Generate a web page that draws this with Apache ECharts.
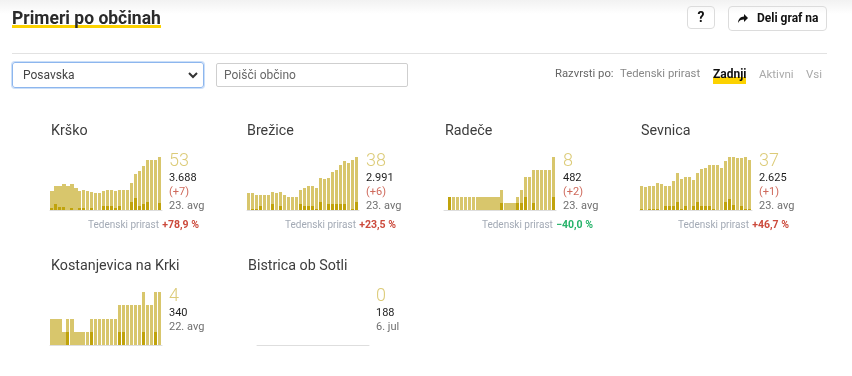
<!DOCTYPE html>
<html><head><meta charset="utf-8">
<script src="https://cdn.jsdelivr.net/npm/echarts@6/dist/echarts.min.js"></script>
<style>
html,body{margin:0;padding:0;width:852px;height:376px;overflow:hidden;background:#fff;font-family:Roboto,"Noto Sans",Arial,sans-serif;}
#chart{position:absolute;left:0;top:0;width:852px;height:376px;}
.ui{position:absolute;white-space:nowrap;}
</style></head><body>
<div class="ui" style="left:0;top:0;width:852px;height:14px;background:linear-gradient(#f2f2f2,#fff);"></div>
<div id="chart"></div>
<!-- header -->
<div class="ui" style="left:12px;top:25px;width:149px;height:3px;background:#fcd200;"></div>
<div class="ui" style="left:12px;top:8px;font-size:17.5px;line-height:20px;font-weight:700;color:#2b2b2b;">Primeri po občinah</div>
<div class="ui" style="left:687px;top:6px;width:26px;height:21px;border:1px solid #dcdcdc;border-radius:4px;text-align:center;font-size:14px;line-height:21px;font-weight:700;color:#111;">?</div>
<div class="ui" style="left:728px;top:6px;width:97px;height:23px;border:1px solid #dcdcdc;border-radius:4px;">
  <svg style="position:absolute;left:9px;top:7px" width="10" height="9" viewBox="0 0 10 9"><path d="M6 0 L10 4 L6 8 L6 5.5 C3 5.5 1.2 6.5 0 9 C0.3 5 2.5 2.8 6 2.6 Z" fill="#111"/></svg>
  <span style="position:absolute;left:28px;top:0;font-size:12px;line-height:23px;font-weight:700;color:#111;">Deli graf na</span>
</div>
<div class="ui" style="left:12px;top:53px;width:815px;height:1px;background:#e2e2e2;"></div>
<div class="ui" style="left:12px;top:62px;width:190px;height:24px;border:1px solid #8db6ee;border-radius:3px;box-shadow:0 0 0 1px rgba(140,185,240,0.45);">
  <span style="position:absolute;left:10px;top:0;font-size:12px;line-height:24px;color:#444;">Posavska</span>
  <svg style="position:absolute;left:175px;top:9px" width="10" height="7" viewBox="0 0 10 7"><path d="M1 1 L5 5 L9 1" stroke="#333" stroke-width="2" fill="none"/></svg>
</div>
<div class="ui" style="left:216px;top:63px;width:190px;height:22px;border:1px solid #cfcfcf;border-radius:2px;">
  <span style="position:absolute;left:7px;top:0;font-size:12px;line-height:22px;color:#666;">Poišči občino</span>
</div>
<div class="ui" style="left:713px;top:77px;width:33px;height:7px;background:#fcd200;"></div>
<div class="ui" style="left:555px;top:66px;font-size:11.3px;line-height:16px;color:#666;">Razvrsti po:</div>
<div class="ui" style="left:620px;top:66px;font-size:11.3px;line-height:16px;color:#888;">Tedenski prirast</div>
<div class="ui" style="left:713px;top:66px;font-size:12px;line-height:16px;color:#111;font-weight:700;">Zadnji</div>
<div class="ui" style="left:759px;top:66px;font-size:11.5px;line-height:16px;color:#aaa;">Aktivni</div>
<div class="ui" style="left:806px;top:66px;font-size:11.5px;line-height:16px;color:#aaa;">Vsi</div>
<script>
// ---- data ----
const days = ['27. jul','28. jul','29. jul','30. jul','31. jul','1. avg','2. avg','3. avg','4. avg','5. avg','6. avg','7. avg','8. avg','9. avg','10. avg','11. avg','12. avg','13. avg','14. avg','15. avg','16. avg','17. avg','18. avg','19. avg','20. avg','21. avg','22. avg','23. avg'];
const names = ['Krško','Brežice','Radeče','Sevnica','Kostanjevica na Krki','Bistrica ob Sotli'];

const krskoActive = [19,24,24,26,24,26,22,19,20,19,18,17,17,19,20,20,19,20,20,20,27,36,39,44,50,50,50,53];
const krskoDaily  = [2,6,3,3,0,2,0,2,2,0,2,0,0,4,4,4,2,4,0,0,8,12,4,6,8,0,0,7];
const krskoBlock  = [19,24,24,26,24,26,22,null,null,null,null,null,null,null,null,null,null,null,null,null,null,null,null,null,null,null,null,null];

const brezActive = [12,12,11,11,11,11,13,12,13,11,9,9,9,14,16,17,17,16,23,22,23,27,29,32,35,34,36,38];
const brezDaily  = [0,1,1,3,0,0,4,0,3,0,0,0,0,4,3,3,3,1,6,0,4,4,4,4,4,0,1,6];
const brezBlock  = [];

const radActive = [0,2,2,2,2,2,2,2,2,2,2,2,2,2,3,1,1,1,2,3,5,5,6,6,6,6,6,8];
const radDaily  = [0,2,0,0,0,0,0,0,0,0,0,0,0,0,1,0,0,0,1,1,2,0,1,0,0,0,0,2];
const radBlock  = [null,null,null,null,null,null,null,null,2,2,2,2,2,2,null,1,1,1,null,null,null,null,null,null,null,null,null,null];

const sevActive = [18,17,18,18,20,19,18,18,21,27,23,24,24,22,27,30,31,33,33,33,31,36,39,39,38,38,39,37];
const sevDaily  = [1,0,1,1,1,0,3,3,3,6,1,3,0,3,6,3,3,3,1,0,0,6,8,4,0,3,1,1];
const sevBlock  = [];

const kostActive = [2,2,2,1,2,2,1,1,1,1,2,2,2,2,2,2,2,3,3,3,3,3,3,4,3,3,4,4];
const kostDaily  = [0,0,0,0,1,0,0,0,0,0,1,0,0,0,0,0,0,1,1,0,0,0,0,1,0,0,1,0];
const kostBlock  = [2,2,2,1,null,2,1,1,null,null,null,null,null,null,null,null,null,null,null,null,null,null,null,null,null,null,null,null];

const bistActive = [];
const bistDaily  = [];
const bistBlock  = [];

const lastValues = ['53','38','8','37','4','0'];
const totals     = ['3.688','2.991','482','2.625','340','188'];
const changes    = ['(+7)','(+6)','(+2)','(+1)',null,null];
const lastDates  = ['23. avg','23. avg','23. avg','23. avg','22. avg','6. jul'];
const weekly     = ['+78,9 %','+23,5 %','−40,0 %','+46,7 %',null,null];

// ---- layout ----
const LIGHT = '#d8c66c', DARK = '#c0a30c';
const layout = [
  {gx:50,  gy:157, tx:51},
  {gx:247, gy:157, tx:247},
  {gx:444, gy:157, tx:445},
  {gx:640, gy:157, tx:641},
  {gx:50,  gy:292, tx:51},
  {gx:257, gy:292, tx:248}
];
const sets = [
  [krskoActive,krskoDaily,krskoBlock],
  [brezActive,brezDaily,brezBlock],
  [radActive,radDaily,radBlock],
  [sevActive,sevDaily,sevBlock],
  [kostActive,kostDaily,kostBlock],
  [bistActive,bistDaily,bistBlock]
];

function render(color, gap){
  return function(params, api){
    const v = api.value(1);
    if (v == null || isNaN(v) || v <= 0) return null;
    const top = api.coord([api.value(0), v]);
    const base = api.coord([api.value(0), 0]);
    const bw = api.size([1, 0])[0];
    const x0 = Math.round(top[0] - bw/2);
    const x1 = Math.round(top[0] + bw/2) - gap;
    const y0 = Math.round(top[1]);
    const y1 = Math.round(base[1]);
    return {type:'rect', shape:{x:x0, y:y0, width:x1-x0, height:y1-y0}, style:{fill:color}};
  };
}
const toPairs = a => a.map((v,i)=>[i, v == null ? NaN : v]);

const grid=[], xAxis=[], yAxis=[], series=[], graphic=[];
layout.forEach((L, k) => {
  const [act, daily, block] = sets[k];
  grid.push({left:L.gx, top:L.gy, width:112, height:53});
  xAxis.push({type:'category', gridIndex:k, data:days, boundaryGap:true,
    axisLine:{show:true, lineStyle:{color:'#dedede', width:1}}, axisTick:{show:false}, axisLabel:{show:false}, splitLine:{show:false}});
  const mx = act.length ? Math.max(...act) : 1;
  yAxis.push({type:'value', gridIndex:k, min:0, max:mx, show:false, splitLine:{show:false}});
  if (block.length) series.push({type:'custom', xAxisIndex:k, yAxisIndex:k, renderItem:render(LIGHT,0), data:toPairs(block), silent:true});
  series.push({type:'custom', xAxisIndex:k, yAxisIndex:k, renderItem:render(LIGHT,1), data:toPairs(act), silent:true});
  series.push({type:'custom', xAxisIndex:k, yAxisIndex:k, renderItem:render(DARK,1), data:toPairs(daily), silent:true});

  const dy = L.gy - 157;
  const lx = L.gx + 119;
  graphic.push({type:'text', left:L.tx, top:dy+124, style:{text:names[k], font:'14.3px Roboto', fill:'#3d3d3d'}});
  graphic.push({type:'text', left:lx, top:dy+152, style:{text:lastValues[k], font:'300 18px Roboto', fill:'#dccb78'}});
  graphic.push({type:'text', left:lx, top:dy+173, style:{text:totals[k], font:'11px Roboto', fill:'#1e1e1e'}});
  if (changes[k]) {
    graphic.push({type:'text', left:lx, top:dy+187, style:{text:changes[k], font:'11px Roboto', fill:'#cf6a5c'}});
    graphic.push({type:'text', left:lx, top:dy+201, style:{text:lastDates[k], font:'11px Roboto', fill:'#6f6f6f'}});
  } else {
    graphic.push({type:'text', left:lx, top:dy+187, style:{text:lastDates[k], font:'11px Roboto', fill:'#6f6f6f'}});
  }
  if (weekly[k]) {
    const neg = weekly[k].charAt(0) !== '+';
    graphic.push({type:'text', right:852-(L.gx+149), top:dy+219, style:{
      text:'{a|Tedenski prirast} {b|' + weekly[k] + '}',
      rich:{a:{fontSize:10, fontFamily:'Roboto', fill:'#a3aab5'}, b:{fontSize:10.5, fontFamily:'Roboto', fontWeight:'bold', fill: neg ? '#27b36a' : '#cc4a3c'}}
    }});
  }
});

const chart = echarts.init(document.getElementById('chart'), null, {renderer:'canvas'});
chart.setOption({animation:false, grid, xAxis, yAxis, series, graphic});
</script>
</body></html>
